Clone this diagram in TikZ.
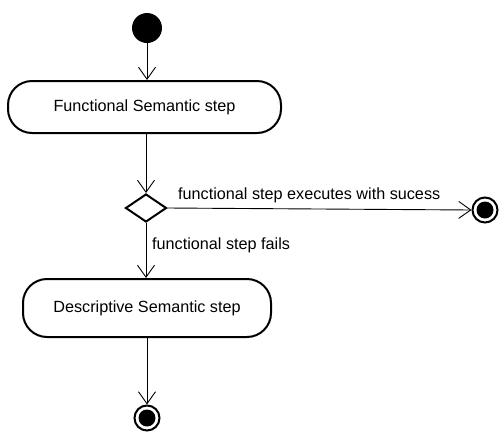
\documentclass[tikz,border=0pt]{standalone}
\usepackage{fontspec}
\setmainfont{Liberation Sans}
\usetikzlibrary{arrows.meta,shapes.geometric}
\begin{document}
\begin{tikzpicture}[x=1pt,y=-1pt,
  every node/.style={font=\fontsize{16.2}{19}\selectfont},
  action/.style={draw,line width=2pt,rounded corners=24pt,inner sep=0pt},
  flow/.style={line width=0.9pt,-{Straight Barb[length=12pt,width=17pt,line width=0.9pt]}},
  initial/.style={circle,fill=black,minimum size=30pt,inner sep=0pt},
  final/.style={circle,draw,line width=2pt,minimum size=25pt,inner sep=0pt,
    path picture={\fill (path picture bounding box.center) circle (8.5pt);}},
  choice/.style={diamond,draw,line width=2pt,minimum width=41pt,minimum height=28pt,inner sep=0pt,aspect=1.5},
  lbl/.style={anchor=west,inner sep=0pt}]
\useasboundingbox (0,0) rectangle (499,432);
\node[initial] (start) at (147,28) {};
\node[action,minimum width=273pt,minimum height=52pt] (func) at (144.5,107) {Functional Semantic step};
\node[choice] (dec) at (146,208) {};
\node[final] (ok) at (485,210) {};
\node[action,minimum width=248pt,minimum height=58pt] (desc) at (147,308) {Descriptive Semantic step};
\node[final] (end) at (147,418) {};
\draw[flow] (start) -- (start |- func.north);
\draw[flow] (func.south -| dec) -- (dec.north);
\draw[flow] (dec.east) -- (ok.west);
\draw[flow] (dec.south) -- (dec |- desc.north);
\draw[flow] (desc.south -| end) -- (end.north);
\node[lbl] (lok) at (178,195) {functional step executes with sucess};
\node[lbl] (lfail) at (152,245) {functional step fails};
\end{tikzpicture}
\end{document}
